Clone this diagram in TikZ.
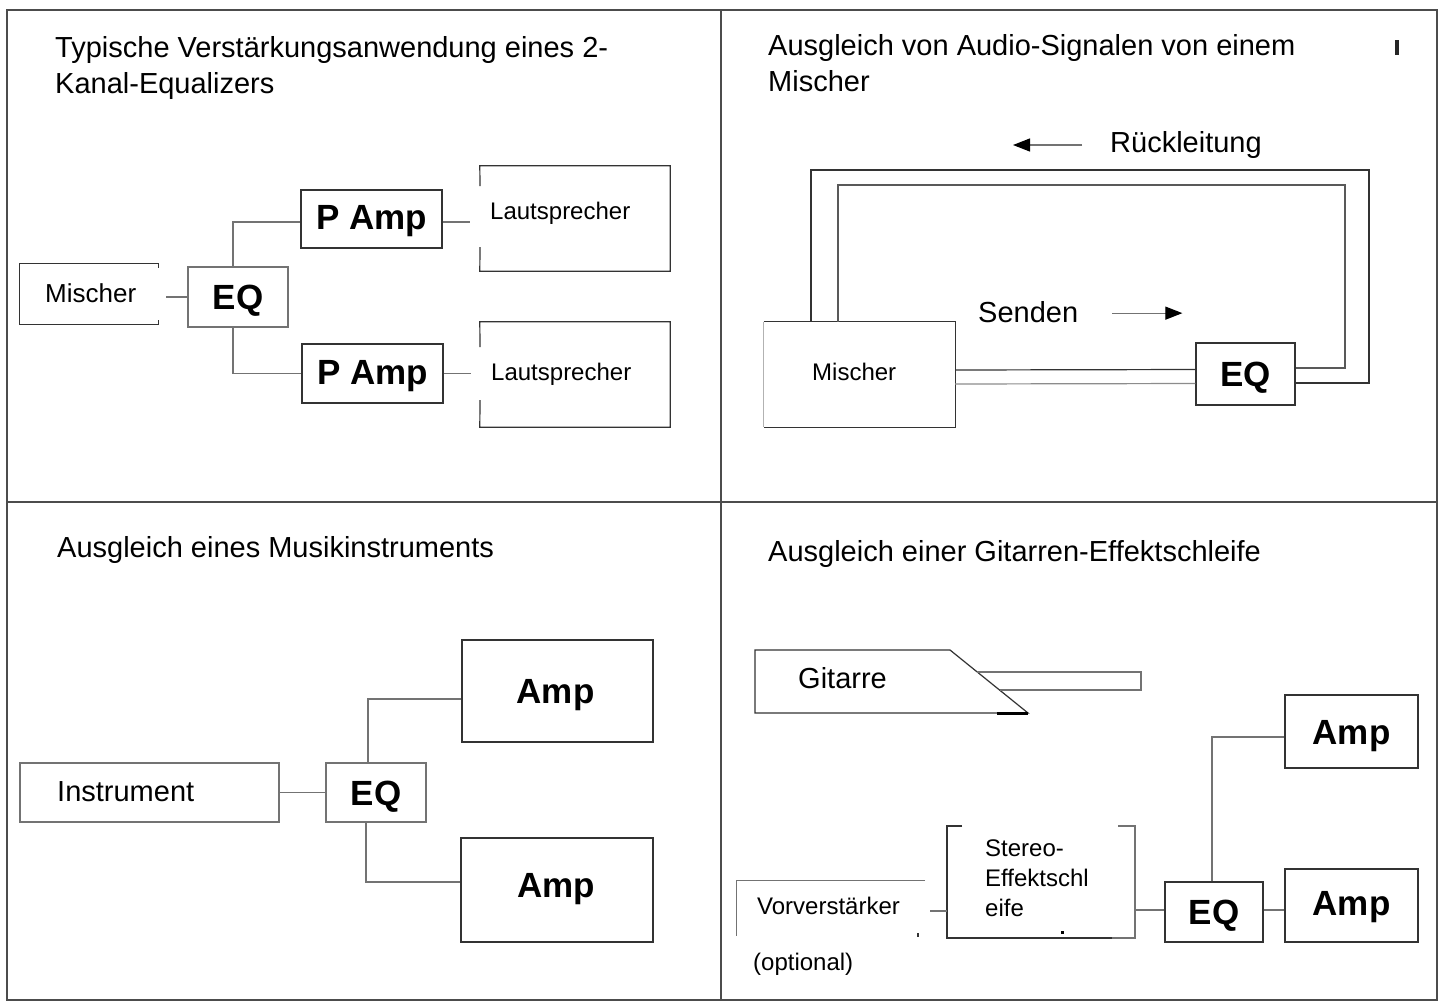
\documentclass[tikz,border=0pt]{standalone}
\usepackage{fontspec}
\setmainfont{Liberation Sans}
\usetikzlibrary{fit,arrows.meta}
\begin{document}
\begin{tikzpicture}[x=1pt,y=-1pt,
  frame/.style={draw=black!70, line width=1.8pt},
  box/.style={draw=black!80, line width=1.2pt, inner sep=0pt},
  lightbox/.style={draw=black!55, line width=1.2pt},
  area/.style={inner sep=0pt},
  wire/.style={draw=black!55, line width=1.2pt},
  title/.style={font=\fontsize{29}{36}\selectfont, align=left, inner sep=0pt},
  lbl/.style={font=\fontsize{24}{30}\selectfont, align=left, inner sep=0pt},
  big/.style={font=\bfseries\fontsize{35}{40}\selectfont, inner sep=0pt, text height=25pt, text depth=0pt, anchor=center},
]
\useasboundingbox (0,0) rectangle (1446,1002);
\fill[white] (0,0) rectangle (1446,1002);

% frame
\draw[frame] (7,10) rectangle (1437,1000);
\draw[frame] (721,10) -- (721,1000);
\draw[frame] (7,502) -- (1437,502);

% ---------- top left ----------
\node[title, anchor=north west] (tA) at (55,36.5) {Typische Verstärkungsanwendung eines 2-\\Kanal-Equalizers};
\node[area, fit={(20,264) (158,324)}] (mixA) {};
\draw[box] ([yshift=-4pt]mixA.north east) -- (mixA.north east) -- (mixA.north west) -- (mixA.south west) -- (mixA.south east) -- ++(0,-4);
\node[lbl, font=\fontsize{26}{30}\selectfont, anchor=base west] (mixAt) at (45,302) {Mischer};
\node[box, lightbox, fit={(188,267) (288,327)}] (eqA) {};
\node[big] (eqAt) at (eqA.center) {EQ};
\node[box, fit={(301,190) (442,248)}] (pampA1) {};
\node[big] (pampA1t) at ([yshift=2pt]pampA1.center) {P Amp};
\node[box, fit={(302,344) (443,403)}] (pampA2) {};
\node[big] (pampA2t) at ([yshift=2pt]pampA2.center) {P Amp};
\node[area, fit={(480,166) (670,271)}] (spkA1) {};
\node[area, fit={(480,322) (670,427)}] (spkA2) {};
\draw[box] (480,186) -- (spkA1.north west) -- (spkA1.north east) -- (spkA1.south east) -- (spkA1.south west) -- (480,247);
\draw[box] (480,347) -- (spkA2.north west) -- (spkA2.north east) -- (spkA2.south east) -- (spkA2.south west) -- (480,400);
\node[lbl, anchor=base west] (spkA1t) at (490,219.5) {Lautsprecher};
\node[lbl, anchor=base west] (spkA2t) at (491,380.5) {Lautsprecher};
\coordinate (mixAo) at (166,297);
\draw[wire] (mixAo) -- (mixAo -| eqA.west);
\draw[wire] ([xshift=-5pt]eqA.north) |- ([yshift=-3pt]pampA1.west);
\draw[wire] ([xshift=-5pt]eqA.south) |- (pampA2.west);
\draw[wire, shorten >=10pt] ([yshift=-3pt]pampA1.east) -- ([yshift=-3pt]pampA1.east -| spkA1.west);
\draw[wire, shorten >=9pt] (pampA2.east) -- (pampA2.east -| spkA2.west);

% ---------- top right ----------
\node[title, anchor=north west] (tB) at (768,34.5) {Ausgleich von Audio-Signalen von einem\\Mischer};
\fill[black!85] (1395,40) rectangle (1399,55);
\node[title, anchor=base west] (rueck) at (1110,152.5) {Rückleitung};
\draw[wire, -{Triangle[length=17pt,width=13pt,black]}] ([xshift=-28pt]rueck.west) -- ++(-69,0);
\node[title, anchor=base west] (senden) at (978,322.5) {Senden};
\draw[wire, -{Triangle[length=17pt,width=13pt,black]}] ([xshift=34pt,yshift=-1pt]senden.east) -- ++(70,0);
\node[area, fit={(764,322) (955,427)}] (mixB) {};
\draw[box] (mixB.north west) -- (mixB.north east) -- (mixB.south east) -- (mixB.south west);
\draw[lightbox, draw=black!30] (mixB.north west) -- (mixB.south west);
\node[lbl, anchor=base west] (mixBt) at (812,380.5) {Mischer};
\node[box, fit={(1196,343) (1295,405)}] (eqB) {};
\node[big] (eqBt) at (eqB.center) {EQ};
\draw[box] ([yshift=4.5pt]mixB.east) -- ([yshift=4.5pt]eqB.west);
\draw[wire, draw=black!45] ([yshift=-9.5pt]mixB.east) -- ([yshift=-9.5pt]eqB.west);
\coordinate (oTL) at (811,170);
\coordinate (oTR) at (1369,170);
\coordinate (iTL) at (838,185);
\coordinate (iTR) at (1345,185);
\draw[box] (mixB.north -| oTL) -- (oTL) -- (oTR) |- ([yshift=-9pt]eqB.east);
\draw[box, draw=black!65] (mixB.north -| iTL) -- (iTL) -- (iTR) |- ([yshift=6pt]eqB.east);

% ---------- bottom left ----------
\node[title, anchor=base west] (tC) at (57,557.5) {Ausgleich eines Musikinstruments};
\node[box, lightbox, fit={(20,763) (279,822)}] (instr) {};
\node[title, anchor=base west] (instrt) at (57,801.5) {Instrument};
\node[box, lightbox, fit={(326,763) (426,822)}] (eqC) {};
\node[big] (eqCt) at (eqC.center) {EQ};
\node[box, fit={(462,640) (653,742)}] (ampC1) {};
\node[big] (ampC1t) at ([xshift=-2pt]ampC1.center) {Amp};
\node[box, fit={(461,838) (653,942)}] (ampC2) {};
\node[big] (ampC2t) at ([xshift=-1pt,yshift=5pt]ampC2.center) {Amp};
\draw[wire] (instr.east) -- (eqC.west);
\draw[wire] ([xshift=-8pt]eqC.north) |- ([yshift=-8pt]ampC1.west);
\draw[wire] ([xshift=-10pt]eqC.south) |- ([yshift=8pt]ampC2.west);

% ---------- bottom right ----------
\node[title, anchor=base west] (tD) at (768,561.5) {Ausgleich einer Gitarren-Effektschleife};
\draw[box] (950,650) -- (755,650) -- (755,713) -- (1028,713) -- cycle;
\draw[line width=3pt, black] (997,713) -- (1028,713);
\draw[lightbox] (977,672) -- (1141,672) -- (1141,690) -- (1000,690);
\node[title, anchor=base west] (git) at (798,688.5) {Gitarre};

\node[area, fit={(737,881) (925,936)}] (vor) {};
\draw[lightbox] (vor.north east) -- (vor.north west) -- (vor.south west);
\draw[box] (918,933) -- (918,937);
\node[lbl, anchor=base west] (vort) at (757,914.5) {Vorverstärker};
\node[lbl, anchor=base west] (opt) at (753,970.5) {(optional)};

\node[area, fit={(947,826) (1135,939)}] (stereo) {};
\draw[box] (962,826) -- (947,826) -- (947,938) -- (1112,938);
\draw[lightbox] (1112,938) -- (1135,938) -- (1135,826) -- (1118,826);
\fill[black] (1061,931) rectangle (1064,934);
\node[lbl, anchor=north west] (stereot) at (985,840) {Stereo-\\Effektschl\\eife};
\coordinate (vo) at ([xshift=5pt,yshift=-2.5pt]vor.east);
\draw[wire] (vo) -- (vo -| stereo.west);

\node[box, fit={(1165,882) (1263,942)}] (eqD) {};
\node[big] (eqDt) at (eqD.center) {EQ};
\node[box, fit={(1285,695) (1418,768)}] (ampD1) {};
\node[big] (ampD1t) at (ampD1.center) {Amp};
\node[box, fit={(1285,869) (1418,942)}] (ampD2) {};
\node[big] (ampD2t) at ([yshift=3pt]ampD2.center) {Amp};
\draw[wire] ([yshift=2pt]eqD.west -| stereo.east) -- ([yshift=2pt]eqD.west);
\draw[wire] ([yshift=2pt]eqD.east) -- ([yshift=2pt]eqD.east -| ampD2.west);
\draw[wire] ([xshift=-2pt]eqD.north) |- ([yshift=-5.5pt]ampD1.west);
\end{tikzpicture}
\end{document}
